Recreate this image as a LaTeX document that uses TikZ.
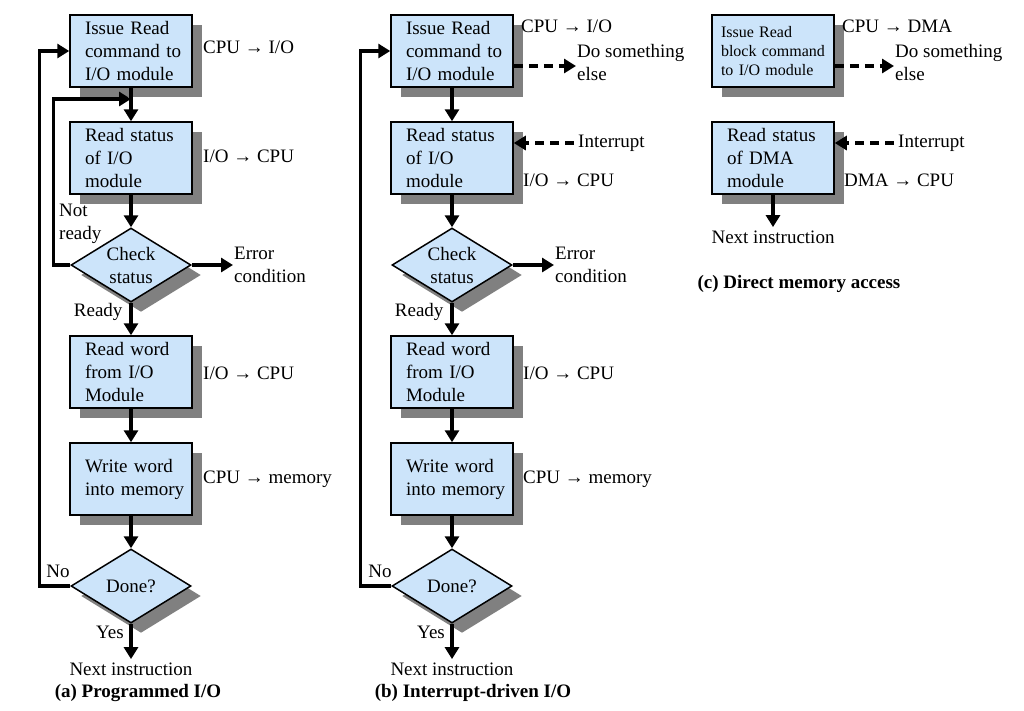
\documentclass[tikz,border=0pt]{standalone}
\usepackage{fontspec}
\setmainfont{Liberation Serif}
\usetikzlibrary{positioning,shapes.geometric,shadows,arrows.meta}
\definecolor{boxblue}{RGB}{204,228,250}
\definecolor{shade}{RGB}{128,128,128}

\begin{document}
\begin{tikzpicture}[x=1pt, y=-1pt, node distance=107pt and 321pt, on grid,
font=\fontsize{19}{23}\selectfont,
flow/.style={-{Triangle[length=12pt,width=14pt]}, line width=3.5pt},
dashflow/.style={flow, dash pattern=on 9pt off 6pt},
box/.style={rectangle, draw, line width=1.5pt, fill=boxblue,
  minimum width=122pt, minimum height=72pt, text width=92pt,
  inner xsep=15pt, inner ysep=0pt, align=left,
  execute at begin node={\hyphenpenalty=10000\relax},
  general shadow={fill=shade, shadow xshift=10pt, shadow yshift=-10pt}},
decision/.style={diamond, draw, line width=1.5pt, fill=boxblue, aspect=1.6,
  minimum width=120pt, minimum height=74pt, inner sep=0pt, align=center,
  general shadow={fill=shade, shadow xshift=10pt, shadow yshift=-10pt}},
note/.style={inner sep=1pt, anchor=west, align=left},
caption/.style={font=\fontsize{19}{23}\selectfont\bfseries}
]
\path[use as bounding box, fill=white] (0,0) rectangle (1024,710);

% (a) programmed I/O
\node[box] (a1) at (131,51) {Issue Read\\command~to\\I/O~module};
\node[box] (a2) [below=of a1] {Read~status\\of I/O\\module};
\node[decision] (a3) [below=of a2] {Check\\status};
\node[box] (a4) [below=of a3] {Read~word\\from~I/O\\Module};
\node[box] (a5) [below=of a4] {Write~word\\into~memory};
\node[decision] (a6) [below=of a5] {Done?};
\node (a7) [below=83pt of a6] {Next instruction};
\node[caption] (acap) at (138,693) {(a) Programmed I/O};
\node[note] (acpu1) at (202,47) {CPU → I/O};
\node[note] (acpu2) at (202,156) {I/O → CPU};
\node[note] (acpu3) at (202,373) {I/O → CPU};
\node[note] (acpu4) at (202,479) {CPU → memory};
\node[note] (aerr) at (233,265) {Error\\condition};
\node[note] (anot) at (58,224) {Not\\ready};
\node (aready) [anchor=east] at (126,312) {Ready};
\node (ano) at (58,571) {No};
\node (ayes) at (110,632) {Yes};
\coordinate (amerge) at (131,99);
\draw[flow] (a1) -- (a2);
\draw[flow] (a2) -- (a3);
\draw[flow] (a3) -- (a4);
\draw[flow] (a4) -- (a5);
\draw[flow] (a5) -- (a6);
\draw[flow] (a6) -- (a7);
\draw[flow] (a3) -- (aerr);
\draw[flow] (a3.west) -- ++(-17,0) |- (amerge);
\draw[flow] (a6.west) -- ++(-31,0) |- (a1.west);

% (b) interrupt-driven I/O
\node[box] (b1) [right=of a1] {Issue Read\\command~to\\I/O~module};
\node[box] (b2) [below=of b1] {Read~status\\of I/O\\module};
\node[decision] (b3) [below=of b2] {Check\\status};
\node[box] (b4) [below=of b3] {Read~word\\from~I/O\\Module};
\node[box] (b5) [below=of b4] {Write~word\\into~memory};
\node[decision] (b6) [below=of b5] {Done?};
\node (b7) [below=83pt of b6] {Next instruction};
\node[caption] (bcap) at (473,693) {(b) Interrupt-driven I/O};
\node[note] (bcpu1) at (520,26) {CPU → I/O};
\node[note] (belse) at (576,62) {Do something\\else};
\node[note] (bint) at (577,143) {Interrupt};
\node[note] (bcpu2) at (522,180) {I/O → CPU};
\node[note] (bcpu3) at (522,373) {I/O → CPU};
\node[note] (bcpu4) at (522,479) {CPU → memory};
\node[note] (berr) at (554,265) {Error\\condition};
\node (bready) [anchor=east] at (447,312) {Ready};
\node (bno) at (380,571) {No};
\node (byes) at (431,632) {Yes};
\draw[flow] (b1) -- (b2) ;
\draw[flow] (b2) -- (b3);
\draw[flow] (b3) -- (b4);
\draw[flow] (b4) -- (b5);
\draw[flow] (b5) -- (b6);
\draw[flow] (b6) -- (b7);
\draw[flow] (b3) -- (berr);
\draw[flow] (b6.west) -- ++(-31,0) |- (b1.west);
\draw[dashflow] ([yshift=-15pt]b1.east) -- ([yshift=-4pt]belse.west);
\draw[dashflow] ([xshift=-3pt]bint.west) -- (b2.east |- bint.west);

% (c) direct memory access
\node[box, font=\fontsize{16}{19}\selectfont, text width=104pt, inner xsep=8pt]
  (c1) [right=of b1] {Issue Read\\block~command\\to~I/O~module};
\node[box] (c2) [below=of c1] {Read~status\\of DMA\\module};
\node (c3) [below=79pt of c2] {Next instruction};
\node[caption] (ccap) at (799,284) {(c) Direct memory access};
\node[note] (ccpu1) at (841,26) {CPU → DMA};
\node[note] (celse) at (894,62) {Do something\\else};
\node[note] (cint) at (897,143) {Interrupt};
\node[note] (ccpu2) at (843,180) {DMA → CPU};
\draw[flow] (c2) -- (c3);
\draw[dashflow] ([yshift=-15pt]c1.east) -- ([yshift=-4pt]celse.west);
\draw[dashflow] ([xshift=-3pt]cint.west) -- (c2.east |- cint.west);
\end{tikzpicture}
\end{document}
